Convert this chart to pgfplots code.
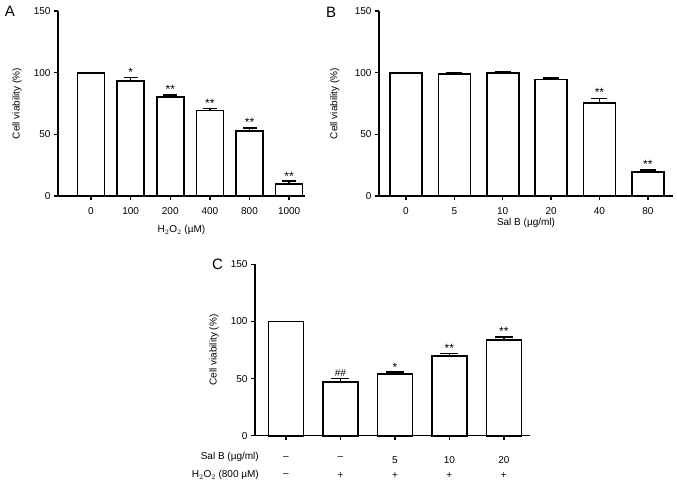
\documentclass[border=0pt]{standalone}
\usepackage{fontspec}
\setmainfont{Liberation Sans}
\usepackage{pgfplots}
\pgfplotsset{compat=1.18}
\tikzset{sig/.style={font=\fontsize{12}{12}\selectfont, anchor=south, inner sep=1pt},
  row2/.style={anchor=center, inner sep=0pt, yshift=-39.5pt}}
\begin{document}
\begin{tikzpicture}
\path[use as bounding box] (0pt,0pt) rectangle (677pt,483pt);
\pgfplotsset{
  panel/.style={
    scale only axis, axis lines=left, axis line style={-, line width=1.5pt},
    ymin=0, ymax=150, ytick={0,50,100,150},
    tick align=outside, major tick length=4pt,
    tick style={line width=1.3pt, black},
    font=\fontsize{10}{12}\selectfont,
    /pgf/number format/assume math mode=true,
    ylabel={Cell viability (\%)},
    xtick=data, clip=false,
    xticklabel style={yshift=-4pt},
  },
  bars/.style={ybar, bar width=#1, fill=white, draw=black, line width=1.7pt},
}
% Panel A
\begin{axis}[panel, at={(58pt,287pt)}, anchor=south west, width=247pt, height=185pt,
  xmin=-0.833, xmax=5.40,
  xticklabels={0,100,200,400,800,1000},
  ylabel style={at={(axis description cs:-0.166,0.5)}, anchor=center},
  xlabel={H$_2$O$_2$ (µM)},
  xlabel style={at={(axis description cs:0.5,-0.185)}, anchor=center},
]
\addplot[bars=27pt, error bars/.cd, y dir=plus, y explicit,
  error bar style={line width=1.6pt, black},
  error mark options={rotate=90, mark size=7pt, line width=1.6pt, black}]
  coordinates {(0,100) +- (0,0) (1,93.3) +- (0,2.7) (2,80) +- (0,1.8) (3,69.3) +- (0,1.7) (4,52.7) +- (0,2.3) (5,9.9) +- (0,2.1)};
\node[sig] at (axis cs:1,96) {*};
\node[sig] at (axis cs:2,81.8) {**};
\node[sig] at (axis cs:3,71) {**};
\node[sig] at (axis cs:4,55) {**};
\node[sig] at (axis cs:5,12) {**};
\end{axis}
\node[font=\fontsize{15}{15}\selectfont] at (10pt,472pt) {A};
% Panel B
\begin{axis}[panel, at={(379pt,287pt)}, anchor=south west, width=294pt, height=185pt,
  xmin=-0.558, xmax=5.52,
  xticklabels={0,5,10,20,40,80},
  ylabel style={at={(axis description cs:-0.150,0.5)}, anchor=center},
  xlabel={Sal B (µg/ml)},
  xlabel style={at={(axis description cs:0.5,-0.145)}, anchor=center},
]
\addplot[bars=32pt, error bars/.cd, y dir=plus, y explicit,
  error bar style={line width=1.6pt, black},
  error mark options={rotate=90, mark size=8pt, line width=1.6pt, black}]
  coordinates {(0,100) +- (0,0) (1,99) +- (0,1.2) (2,99.5) +- (0,1.2) (3,94.5) +- (0,1) (4,75.2) +- (0,4) (5,19.4) +- (0,1.6)};
\node[sig] at (axis cs:4,79.3) {**};
\node[sig] at (axis cs:5,21) {**};
\end{axis}
\node[font=\fontsize{15}{15}\selectfont] at (331pt,471pt) {B};
% Panel C
\begin{axis}[panel, at={(255pt,47.3pt)}, anchor=south west, width=275pt, height=171.4pt,
  xmin=-0.569, xmax=4.48,
  xticklabels={–,–,5,10,20},
  xticklabel style={yshift=-9pt},
  ylabel style={at={(axis description cs:-0.149,0.5)}, anchor=center},
]
\addplot[bars=35pt, error bars/.cd, y dir=plus, y explicit,
  error bar style={line width=1.6pt, black},
  error mark options={rotate=90, mark size=9pt, line width=1.6pt, black}]
  coordinates {(0,100) +- (0,0) (1,47.3) +- (0,2.6) (2,54) +- (0,1.5) (3,69.7) +- (0,2.1) (4,83.7) +- (0,2.7)};
\node[sig, font=\fontsize{10}{10}\selectfont, inner sep=2pt] at (axis cs:1,49.9) {\#\#};
\node[sig] at (axis cs:2,55.5) {*};
\node[sig] at (axis cs:3,71.8) {**};
\node[sig] at (axis cs:4,86.4) {**};
\node[row2] at (axis cs:0,0) {–};
\node[row2] at (axis cs:1,0) {+};
\node[row2] at (axis cs:2,0) {+};
\node[row2] at (axis cs:3,0) {+};
\node[row2] at (axis cs:4,0) {+};
\node[anchor=east, inner sep=0pt] at ([xshift=4pt,yshift=-21pt]axis description cs:0,0) {Sal B (µg/ml)};
\node[anchor=east, inner sep=0pt] at ([xshift=4pt,yshift=-39.5pt]axis description cs:0,0) {H$_2$O$_2$ (800 µM)};
\end{axis}
\node[font=\fontsize{15}{15}\selectfont] at (217.5pt,218.5pt) {C};
\end{tikzpicture}
\end{document}
